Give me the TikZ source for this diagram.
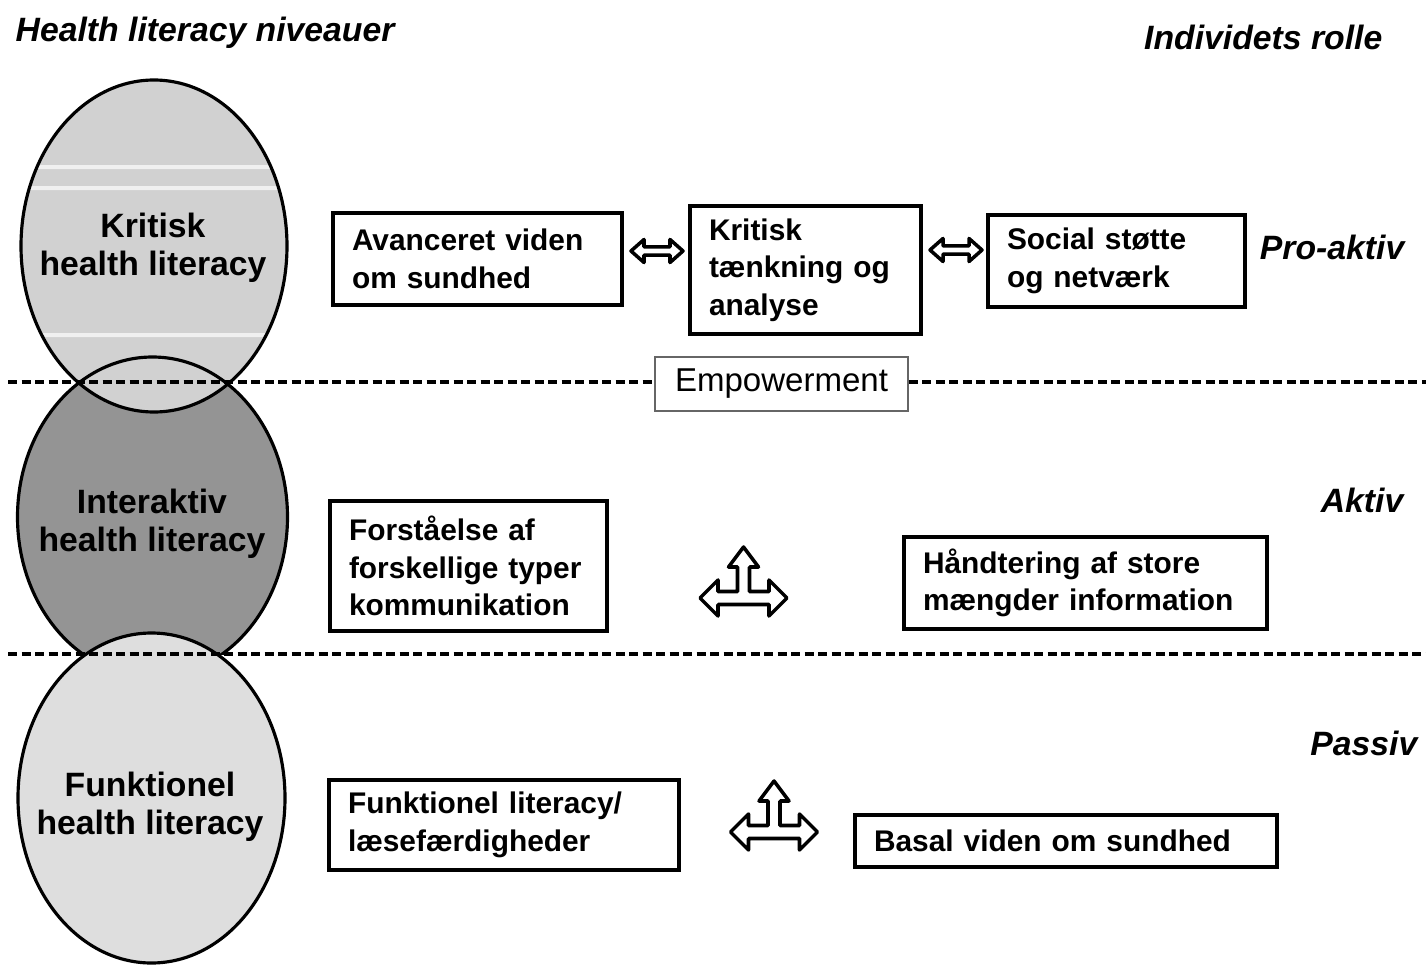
\documentclass[tikz,border=0pt]{standalone}
\usepackage{fontspec}
\setmainfont{Liberation Sans}

\tikzset{
  pics/dblarrow/.style={code={
    \draw[blockarrow] (-2.6,0) -- (-1.3,-1.15) -- (-1.3,-0.42) -- (1.3,-0.42) -- (1.3,-1.15) --
      (2.6,0) -- (1.3,1.15) -- (1.3,0.42) -- (-1.3,0.42) -- (-1.3,1.15) -- cycle;
  }},
  pics/triarrow/.style={code={
    \draw[blockarrow] (-4.35,0) -- (-2.55,-1.8) -- (-2.55,-0.65) -- (-0.6,-0.65) -- (-0.6,-3.1) --
      (-1.5,-3.1) -- (0,-5.1) -- (1.5,-3.1) -- (0.6,-3.1) -- (0.6,-0.65) -- (2.55,-0.65) --
      (2.55,-1.8) -- (4.35,0) -- (2.55,1.8) -- (2.55,0.65) -- (-2.55,0.65) -- (-2.55,1.8) -- cycle;
  }}
}

\begin{document}
\begin{tikzpicture}[x=1mm, y=-1mm,
    box/.style={draw, line width=1pt, inner xsep=1.9mm, inner ysep=0pt, align=left,
      font=\bfseries\fontsize{8.5}{10.7}\selectfont},
    level/.style={align=center, inner sep=0pt, font=\bfseries\fontsize{9.6}{10.8}\selectfont},
    role/.style={anchor=east, inner sep=0pt, font=\bfseries\itshape\fontsize{9.6}{11.4}\selectfont},
    sep/.style={line width=0.9pt, dash pattern=on 0.9mm off 0.45mm},
    rim/.style={line width=0.9pt},
    blockarrow/.style={line width=1pt, fill=white, line join=round}]

  \useasboundingbox (0,0) rectangle (142.6,97.6);

  % the three levels
  \fill[black!42] (15.25,51.7) ellipse [x radius=13.5mm, y radius=16mm];
  \fill[black!18] (15.4,24.6) ellipse [x radius=13.3mm, y radius=16.6mm];
  \begin{scope}
    \clip (15.4,24.6) ellipse [x radius=13.3mm, y radius=16.6mm];
    \fill[black!6] (0,16.5) rectangle (30,16.9) (0,18.6) rectangle (30,19.0)
      (0,33.3) rectangle (30,33.7);
  \end{scope}
  \fill[black!13] (15.15,79.8) ellipse [x radius=13.35mm, y radius=16.5mm];
  \begin{scope}
    \clip (0,0) rectangle (30,65.4);
    \draw[rim] (15.25,51.7) ellipse [x radius=13.5mm, y radius=16mm];
  \end{scope}
  \draw[rim] (15.4,24.6) ellipse [x radius=13.3mm, y radius=16.6mm];
  \draw[rim] (15.15,79.8) ellipse [x radius=13.35mm, y radius=16.5mm];

  \node[level] (kritiskHL) at (15.3,24.8) {Kritisk\\health literacy};
  \node[level] (interaktivHL) at (15.2,52.4) {Interaktiv\\health literacy};
  \node[level] (funktionelHL) at (15.0,80.7) {Funktionel\\health literacy};

  % headings
  \node[role, anchor=west] (niveauer) at (1.5,3.3) {Health literacy niveauer};
  \node[role] (rolle) at (138.3,3.7) {Individets rolle};
  \node[role] (proaktiv) at (140.5,24.7) {Pro-aktiv};
  \node[role] (aktiv) at (140.4,50.0) {Aktiv};
  \node[role] (passiv) at (141.8,74.3) {Passiv};

  % boxes
  \node[box, minimum width=28.9mm, minimum height=9.2mm, text width=25.1mm] (avanceret)
    at (47.75,25.9) {Avanceret viden\\om sundhed};
  \node[box, minimum width=23.1mm, minimum height=12.8mm, text width=19.3mm] (kritisk)
    at (80.55,27.0) {Kritisk\\tænkning og\\analyse};
  \node[box, minimum width=25.7mm, minimum height=9.2mm, text width=21.9mm] (social)
    at (111.65,26.1) {Social støtte\\og netværk};
  \node[draw=black!60, line width=0.5pt, minimum width=25.3mm, minimum height=5.4mm,
    inner sep=0pt, font=\fontsize{9.4}{11}\selectfont] (empower)
    at (78.15,38.4) {Empowerment};
  \node[box, minimum width=27.7mm, minimum height=13mm, text width=23.9mm] (forstaaelse)
    at (46.85,56.6) {Forståelse af\\forskellige typer\\kommunikation};
  \node[box, minimum width=36.3mm, minimum height=9.2mm, text width=32.5mm] (haandtering)
    at (108.55,58.3) {Håndtering af store\\mængder information};
  \node[box, minimum width=35mm, minimum height=9mm, text width=31.2mm] (funktionel)
    at (50.4,82.5) {Funktionel literacy/\\læsefærdigheder};
  \node[box, minimum width=42.2mm, minimum height=5.2mm, text width=38.4mm] (basal)
    at (106.6,84.1) {Basal viden om sundhed};

  % separators
  \coordinate (sepA) at (0.8,38.2);
  \coordinate (sepB) at (142.6,38.2);
  \coordinate (sepC) at (0.8,65.4);
  \coordinate (sepD) at (142.6,65.4);
  \draw[sep] (sepA) -- (sepA -| empower.west);
  \draw[sep] (sepB -| empower.east) -- (sepB);
  \draw[sep] (sepC) -- (sepD);

  % block arrows
  \pic at (65.7,25.1) {dblarrow};
  \pic at (95.6,25.0) {dblarrow};
  \pic at (74.35,59.8) {triarrow};
  \pic at (77.4,83.2) {triarrow};
\end{tikzpicture}
\end{document}
